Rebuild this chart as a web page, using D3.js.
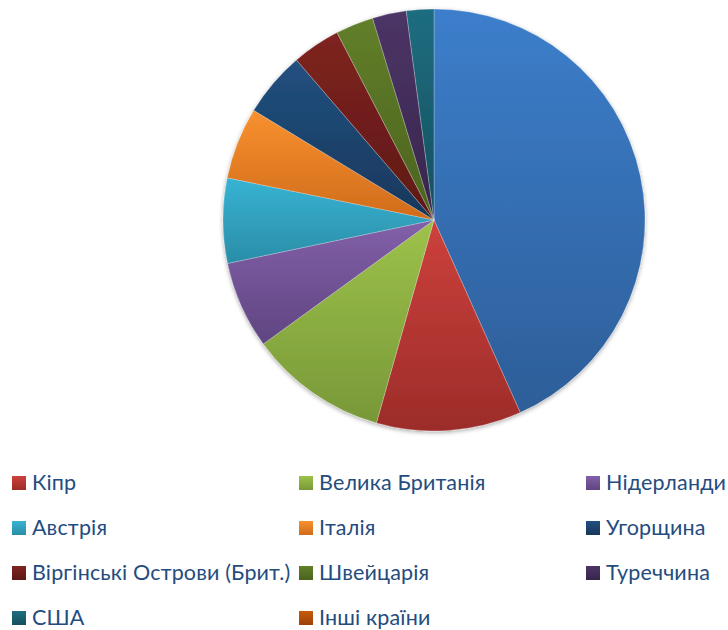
<!DOCTYPE html>
<html>
<head>
<meta charset="utf-8">
<script src="https://cdn.jsdelivr.net/npm/d3@7"></script>
<style>
  html, body { margin: 0; padding: 0; background: #fff; }
  svg { display: block; }
</style>
</head>
<body>
<svg id="chart" width="728" height="630"></svg>
<script>
// Share of each source country, % (first slice has no legend entry)
const categories = [null, "Кіпр", "Велика Британія", "Нідерланди", "Австрія", "Італія",
  "Угорщина", "Віргінські Острови (Брит.)", "Швейцарія", "Туреччина", "США", "Інші країни"];
const values = [43.3, 11.1, 10.6, 6.7, 6.5, 5.5, 5.0, 3.7, 2.9, 2.6, 2.1, 0];
// light (top) and dark (bottom) stop of each slice's fill
const topColors = ["#3c7ecb", "#cd413c", "#9dc24a", "#8360aa", "#38b3d3", "#f8912f",
  "#21507f", "#7f2320", "#627f2a", "#4c3567", "#1d6d80", "#c95b0d"];
const bottomColors = ["#2d5e98", "#9c2c29", "#789838", "#5f4580", "#2a8da7", "#d06b1b",
  "#18375b", "#5e1816", "#4a621e", "#37254b", "#15505e", "#9a4208"];

const svg = d3.select("#chart");
const defs = svg.append("defs");

categories.forEach((c, i) => {
  const g = defs.append("linearGradient")
    .attr("id", "grad" + i)
    .attr("x1", 0).attr("y1", 0).attr("x2", 0).attr("y2", 1);
  g.append("stop").attr("offset", "0%").attr("stop-color", topColors[i]);
  g.append("stop").attr("offset", "100%").attr("stop-color", bottomColors[i]);
});

const shadow = defs.append("filter").attr("id", "pieShadow")
  .attr("x", "-10%").attr("y", "-10%").attr("width", "120%").attr("height", "120%");
shadow.append("feDropShadow")
  .attr("dx", 0).attr("dy", 1.5).attr("stdDeviation", 2.2)
  .attr("flood-color", "#000").attr("flood-opacity", 0.35);

const cx = 434, cy = 220, radius = 211;

const pie = d3.pie().sort(null).value(d => d.value);
const arc = d3.arc().innerRadius(0).outerRadius(radius);
const data = categories.map((name, i) => ({ name, value: values[i], i }));

const pieG = svg.append("g")
  .attr("transform", `translate(${cx},${cy})`)
  .attr("filter", "url(#pieShadow)");

pieG.selectAll("path.slice")
  .data(pie(data).filter(d => d.data.value > 0))
  .join("path")
  .attr("class", "slice")
  .attr("d", arc)
  .attr("fill", d => `url(#grad${d.data.i})`)
  .attr("stroke", "rgba(255,255,255,0.35)")
  .attr("stroke-width", 0.7);

// Legend: three columns, four rows
const legendItems = data.filter(d => d.name !== null);
const colX = d3.scaleOrdinal().domain([0, 1, 2]).range([12, 299, 586]);
const rowY = d3.scalePoint().domain([0, 1, 2, 3]).range([483, 618]);

const legend = svg.append("g").attr("class", "legend");
const item = legend.selectAll("g.item")
  .data(legendItems)
  .join("g")
  .attr("class", "item")
  .attr("transform", (d, k) => `translate(${colX(k % 3)},${rowY(Math.floor(k / 3))})`);

item.append("rect")
  .attr("x", 0).attr("y", -7)
  .attr("width", 14).attr("height", 14)
  .attr("fill", d => `url(#grad${d.i})`);

item.append("text")
  .attr("x", 20).attr("y", 0)
  .attr("dy", "0.33em")
  .attr("font-family", "Lato, 'Open Sans', sans-serif")
  .attr("font-size", 21.5)
  .attr("letter-spacing", 0.15)
  .attr("fill", "#244c7e")
  .text(d => d.name);
</script>
</body>
</html>
